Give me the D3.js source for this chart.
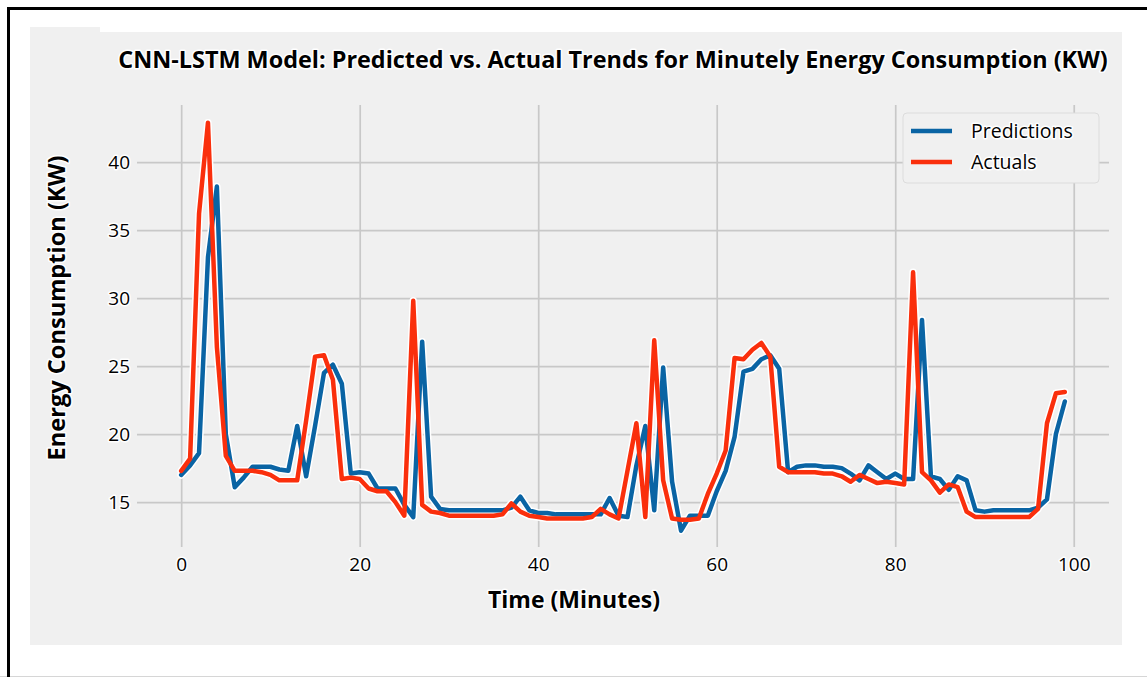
<!DOCTYPE html>
<meta charset="utf-8">
<style>
body { margin: 0; background: #fff; }
svg { display: block; font-family: "Open Sans", sans-serif; }
.halo { paint-order: stroke; stroke: #fff; stroke-width: 3px; stroke-linejoin: round; }
.grid line { stroke: #c8c8c8; stroke-width: 1.7px; }
.grid text { fill: #000; font-size: 19px; }
</style>
<svg width="1147" height="677"></svg>
<script src="https://cdn.jsdelivr.net/npm/d3@7"></script>
<script>

// values, one per minute (0..99)
var predictions = [
  17.0, 17.7, 18.6, 33.0, 38.2, 20.0, 16.1, 16.8, 17.6, 17.6,
  17.6, 17.4, 17.3, 20.6, 16.9, 20.6, 24.5, 25.1, 23.7, 17.1,
  17.2, 17.1, 16.0, 16.0, 16.0, 14.8, 13.9, 26.8, 15.4, 14.5,
  14.4, 14.4, 14.4, 14.4, 14.4, 14.4, 14.4, 14.6, 15.4, 14.4,
  14.2, 14.2, 14.1, 14.1, 14.1, 14.1, 14.1, 14.1, 15.3, 14.0,
  13.9, 17.7, 20.6, 14.4, 24.9, 16.5, 12.9, 14.0, 14.0, 14.0,
  15.8, 17.3, 19.8, 24.6, 24.8, 25.5, 25.8, 24.8, 17.2, 17.6,
  17.7, 17.7, 17.6, 17.6, 17.5, 17.1, 16.6, 17.7, 17.2, 16.7,
  17.1, 16.7, 16.7, 28.4, 16.9, 16.7, 15.9, 16.9, 16.6, 14.4,
  14.3, 14.4, 14.4, 14.4, 14.4, 14.4, 14.6, 15.2, 20.0, 22.4
];
var actuals = [
  17.3, 18.2, 36.2, 42.9, 26.4, 18.4, 17.3, 17.3, 17.3, 17.2,
  17.0, 16.6, 16.6, 16.6, 21.0, 25.7, 25.8, 24.0, 16.7, 16.8,
  16.7, 16.0, 15.8, 15.8, 15.0, 14.0, 29.8, 14.8, 14.3, 14.2,
  14.0, 14.0, 14.0, 14.0, 14.0, 14.0, 14.1, 14.9, 14.3, 14.0,
  13.9, 13.8, 13.8, 13.8, 13.8, 13.8, 13.9, 14.5, 14.1, 13.8,
  17.3, 20.8, 13.9, 26.9, 16.6, 13.8, 13.7, 13.7, 13.8, 15.6,
  17.1, 18.8, 25.6, 25.5, 26.2, 26.7, 25.7, 17.6, 17.2, 17.2,
  17.2, 17.2, 17.1, 17.1, 16.9, 16.5, 17.0, 16.7, 16.4, 16.5,
  16.4, 16.3, 31.9, 17.2, 16.6, 15.7, 16.3, 16.1, 14.3, 13.9,
  13.9, 13.9, 13.9, 13.9, 13.9, 13.9, 14.5, 20.8, 23.0, 23.1
];
var xTicks = [0, 20, 40, 60, 80, 100];
var yTicks = [15, 20, 25, 30, 35, 40];
var seriesNames = ["Predictions", "Actuals"];
var colors = ["#0a64a4", "#fa2f0c"];

var svg = d3.select("svg"),
    plotLeft = 137, plotRight = 1109, plotTop = 105, plotBottom = 547;

var x = d3.scaleLinear().domain([-4.95, 103.95]).range([plotLeft, plotRight]);
var y = d3.scaleLinear().domain([11.7, 44.2]).range([plotBottom, plotTop]);

// white sheet with black frame on left and top
svg.append("rect").attr("width", 1147).attr("height", 677).attr("fill", "#fff");
svg.append("line").attr("x1", 0).attr("x2", 1147).attr("y1", 676.5).attr("y2", 676.5)
    .attr("stroke", "#d6d6d6").attr("stroke-width", 1);
svg.append("path").attr("d", "M8.5,677V8.5H1147")
    .attr("fill", "none").attr("stroke", "#000").attr("stroke-width", 3);

// grey panel
svg.append("rect").attr("x", 30).attr("y", 32).attr("width", 1092).attr("height", 613).attr("fill", "#f0f0f0");
svg.append("rect").attr("x", 30).attr("y", 27).attr("width", 70).attr("height", 6).attr("fill", "#f0f0f0");

// grid + tick labels
svg.append("g").attr("class", "grid")
    .attr("transform", "translate(0," + plotBottom + ")")
    .call(d3.axisBottom(x).tickValues(xTicks).tickSize(-(plotBottom - plotTop)).tickPadding(11).tickFormat(d3.format("d")));
svg.append("g").attr("class", "grid")
    .attr("transform", "translate(" + plotLeft + ",0)")
    .call(d3.axisLeft(y).tickValues(yTicks).tickSize(-(plotRight - plotLeft)).tickPadding(7).tickFormat(d3.format("d")));
svg.selectAll(".grid").attr("font-family", null).attr("font-size", null);
svg.selectAll(".grid .domain").remove();
svg.selectAll(".grid text").attr("class", "halo");

// lines
var line = d3.line()
    .x(function(d, i) { return x(i); })
    .y(function(d) { return y(d); });

var data = [predictions, actuals];
svg.selectAll(".under").data(data).enter().append("path")
    .attr("class", "under")
    .attr("d", line)
    .attr("fill", "none").attr("stroke", "#fff").attr("stroke-width", 7.5)
    .attr("stroke-linejoin", "round").attr("stroke-linecap", "round");
svg.selectAll(".series").data(data).enter().append("path")
    .attr("class", "series")
    .attr("d", line)
    .attr("fill", "none")
    .attr("stroke", function(d, i) { return colors[i]; })
    .attr("stroke-width", 4.5)
    .attr("stroke-linejoin", "round").attr("stroke-linecap", "round");

// legend
var lg = svg.append("g");
lg.append("rect").attr("x", 903).attr("y", 113).attr("width", 196).attr("height", 70).attr("rx", 4)
    .attr("fill", "#f0f0f0").attr("stroke", "#dcdcdc").attr("stroke-width", 1);
seriesNames.forEach(function(name, i) {
  var ly = 131 + i * 31;
  lg.append("line").attr("x1", 911).attr("x2", 952).attr("y1", ly).attr("y2", ly)
      .attr("stroke", colors[i]).attr("stroke-width", 4.5);
  lg.append("text").attr("class", "halo").attr("x", 971).attr("y", ly).attr("dy", "0.35em")
      .attr("font-size", 19.5).attr("fill", "#000").text(name);
});

function fit(t, w) {
  var len = t.node().getComputedTextLength();
  t.attr("font-size", parseFloat(t.attr("font-size")) * w / len);
}

var title = svg.append("text").attr("class", "halo")
    .attr("x", 613).attr("y", 68).attr("text-anchor", "middle")
    .attr("font-size", 21).attr("font-weight", "bold").attr("fill", "#000")
    .text("CNN-LSTM Model: Predicted vs. Actual Trends for Minutely Energy Consumption (KW)");
fit(title, 990);

var xl = svg.append("text").attr("class", "halo")
    .attr("x", 574).attr("y", 608).attr("text-anchor", "middle")
    .attr("font-size", 19).attr("font-weight", "bold").attr("fill", "#000")
    .text("Time (Minutes)");
fit(xl, 172);

var yl = svg.append("text").attr("class", "halo")
    .attr("transform", "translate(65,308) rotate(-90)").attr("text-anchor", "middle")
    .attr("font-size", 19).attr("font-weight", "bold").attr("fill", "#000")
    .text("Energy Consumption (KW)");
fit(yl, 305);

</script>
